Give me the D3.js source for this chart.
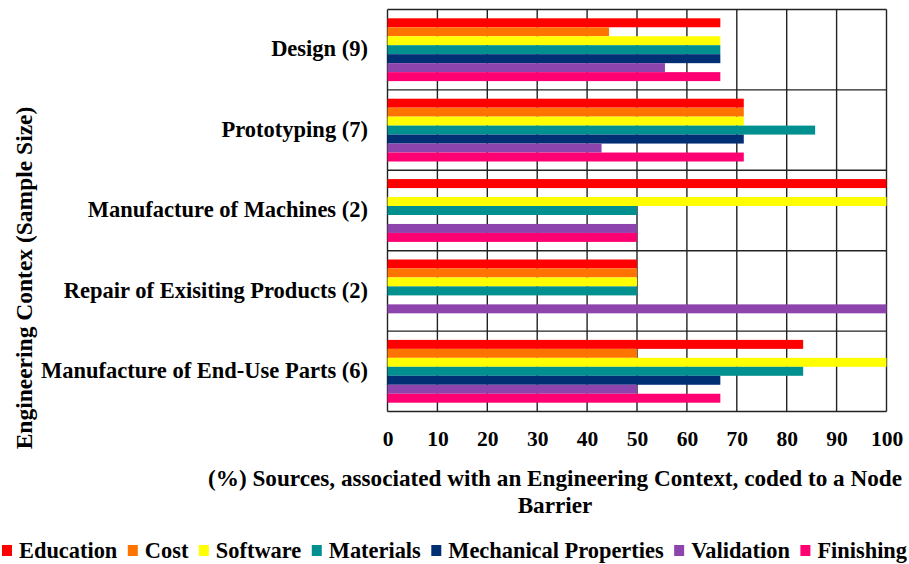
<!DOCTYPE html>
<html>
<head>
<meta charset="utf-8">
<script src="https://cdn.jsdelivr.net/npm/d3@7"></script>
<style>
  body { margin: 0; background: #fff; }
  svg { display: block; }
  svg text { font-family: "Liberation Serif", "Times New Roman", "DejaVu Serif", serif; font-weight: bold; fill: #000; }
</style>
</head>
<body>
<svg id="chart" width="909" height="564"></svg>
<script>
const categories = [
  "Design (9)",
  "Prototyping (7)",
  "Manufacture of Machines (2)",
  "Repair of Exisiting Products (2)",
  "Manufacture of End-Use Parts (6)"
];
const seriesNames = ["Education", "Cost", "Software", "Materials", "Mechanical Properties", "Validation", "Finishing"];
const seriesColors = ["#ff0000", "#ff7300", "#ffff00", "#009090", "#002f73", "#8e44ad", "#ff0072"];
const education  = [66.7, 71.4, 100, 50, 83.3];
const cost       = [44.4, 71.4, 0, 50, 50];
const software   = [66.7, 71.4, 100, 50, 100];
const materials  = [66.7, 85.7, 50, 50, 83.3];
const mechanical = [66.7, 71.4, 0, 0, 66.7];
const validation = [55.6, 42.9, 50, 100, 50];
const finishing  = [66.7, 71.4, 50, 0, 66.7];
const xTicks = [0, 10, 20, 30, 40, 50, 60, 70, 80, 90, 100];
const xTitle = ["(%) Sources, associated with an Engineering Context, coded to a Node", "Barrier"];
const yTitle = "Engineering Contex (Sample Size)";

const seriesValues = [education, cost, software, materials, mechanical, validation, finishing];

const svg = d3.select("#chart");
const pLeft = 387.5, pRight = 886.5, pTop = 9.5, pBottom = 411.5;

const x = d3.scaleLinear().domain([0, 100]).range([pLeft, pRight]);
const y = d3.scaleBand().domain(categories).range([pTop, pBottom]).padding(0);
const inner = d3.scaleBand().domain(seriesNames).range([0, y.bandwidth()]).paddingOuter(0.98).paddingInner(0);

// grid lines (behind bars, as in reference)
const grid = svg.append("g").attr("stroke", "#222").attr("stroke-width", 1.4).attr("fill", "none");
xTicks.forEach(t => {
  grid.append("line").attr("x1", x(t)).attr("x2", x(t)).attr("y1", pTop).attr("y2", pBottom);
});
const bounds = categories.map(c => y(c)).concat([pBottom]);
bounds.forEach(b => {
  grid.append("line").attr("x1", pLeft).attr("x2", pRight).attr("y1", b).attr("y2", b);
});

// bars
const g = svg.append("g");
categories.forEach((c, ci) => {
  seriesNames.forEach((s, si) => {
    const v = seriesValues[si][ci];
    if (v > 0) {
      g.append("rect")
        .attr("x", x(0))
        .attr("y", y(c) + inner(s))
        .attr("width", x(v) - x(0))
        .attr("height", inner.bandwidth())
        .attr("fill", seriesColors[si]);
    }
  });
});

// x tick labels
const xAxis = d3.axisBottom(x).tickValues(xTicks).tickSize(0).tickPadding(0);
const ax = svg.append("g").attr("transform", `translate(0,${pBottom})`).call(xAxis);
ax.attr("font-family", null).attr("font-size", null);
ax.select(".domain").remove();
ax.selectAll("text")
  .attr("y", 34)
  .attr("dy", null)
  .style("font-size", "21.5px");

// category labels
const yAxis = d3.axisLeft(y).tickSize(0).tickPadding(0);
const ay = svg.append("g").attr("transform", `translate(368,0)`).call(yAxis);
ay.attr("font-family", null).attr("font-size", null);
ay.select(".domain").remove();
ay.selectAll("text")
  .attr("x", 0)
  .attr("dy", "0.3em")
  .style("font-size", "22.5px");

// x title
svg.append("text").attr("x", 555).attr("y", 486).attr("text-anchor", "middle")
  .style("font-size", "23.2px").text(xTitle[0]);
svg.append("text").attr("x", 555).attr("y", 513).attr("text-anchor", "middle")
  .style("font-size", "23.2px").text(xTitle[1]);

// y title
svg.append("text").attr("transform", "translate(32,278) rotate(-90)").attr("text-anchor", "middle")
  .style("font-size", "23.5px").text(yTitle);

// legend
const leg = svg.append("g");
const items = seriesNames.map((s, i) => {
  const it = leg.append("g");
  it.append("rect").attr("width", 10).attr("height", 11).attr("y", -13).attr("fill", seriesColors[i]);
  const t = it.append("text").attr("x", 17).attr("y", 0).style("font-size", "22.4px").text(s);
  return { g: it, w: 17 + t.node().getComputedTextLength() };
});
const total = d3.sum(items, d => d.w);
const gap = (907 - 2 - total) / (items.length - 1);
let cx = 2;
items.forEach(d => { d.g.attr("transform", `translate(${cx},558)`); cx += d.w + gap; });
</script>
</body>
</html>
